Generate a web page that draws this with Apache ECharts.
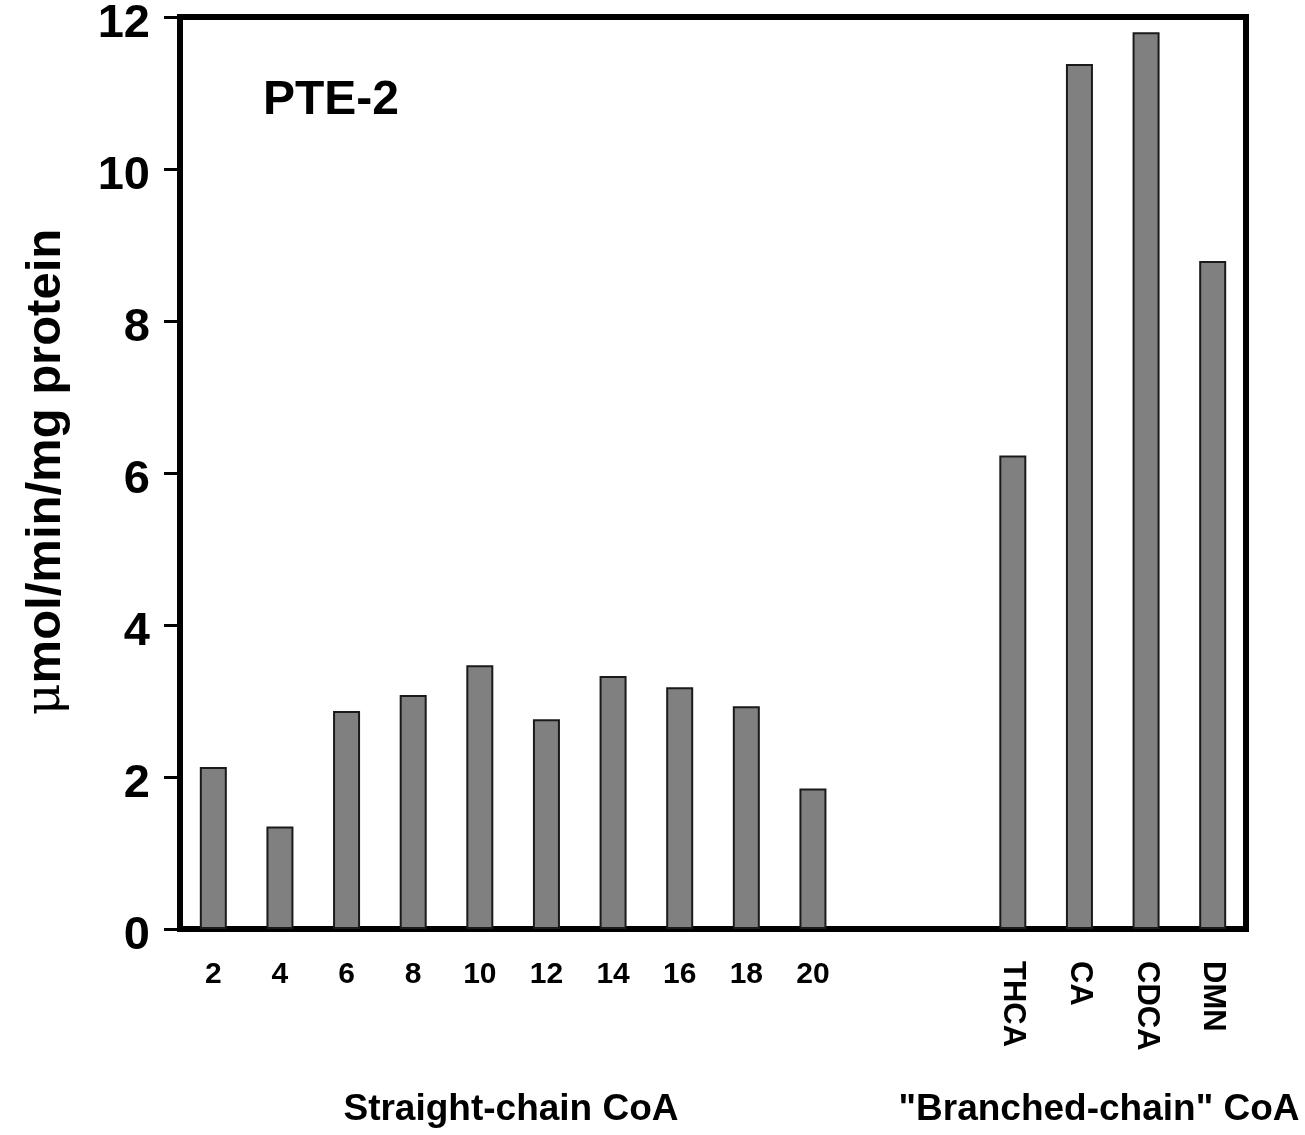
<!DOCTYPE html>
<html>
<head>
<meta charset="utf-8">
<script src="https://cdn.jsdelivr.net/npm/echarts@6/dist/echarts.min.js"></script>
<style>
  html, body { margin: 0; padding: 0; background: #fff; }
  #main { width: 1305px; height: 1135px; }
</style>
</head>
<body>
<div id="main"></div>
<script>
const straightChain = ["2", "4", "6", "8", "10", "12", "14", "16", "18", "20"];
const straightValues = [2.13, 1.35, 2.87, 3.08, 3.47, 2.76, 3.33, 3.18, 2.93, 1.85];
const gapSlots = ["gap1", "gap2"];
const branchedChain = ["THCA", "CA", "CDCA", "DMN"];
const branchedValues = [6.23, 11.38, 11.8, 8.79];
const yTicks = [0, 2, 4, 6, 8, 10, 12];

const FONT = "Liberation Sans, Arial, sans-serif";

function buildOption() {
  const categories = [...straightChain, ...gapSlots, ...branchedChain];
  const values = [...straightValues, ...gapSlots.map(() => null), ...branchedValues];

  return {
    animation: false,
    backgroundColor: "#fff",
    grid: {
      left: 180,
      right: 59,
      top: 17,
      bottom: 206,
      outerBoundsMode: "none",
      show: true,
      borderColor: "#000",
      borderWidth: 6,
    },
    xAxis: [
      {
        type: "category",
        data: categories,
        axisLine: { show: false },
        axisTick: { show: false },
        axisLabel: {
          interval: 0,
          margin: 31,
          fontFamily: FONT,
          fontWeight: "bold",
          fontSize: 30,
          color: "#000",
          formatter: (v) => (straightChain.includes(v) ? v : ""),
        },
      },
      {
        type: "category",
        position: "bottom",
        data: categories,
        axisLine: { show: false },
        axisTick: { show: false },
        axisLabel: {
          interval: 0,
          rotate: -90,
          margin: 32,
          fontFamily: FONT,
          fontWeight: "bold",
          fontSize: 31,
          color: "#000",
          formatter: (v) => (branchedChain.includes(v) ? v : ""),
        },
      },
    ],
    yAxis: {
      type: "value",
      min: yTicks[0],
      max: yTicks[yTicks.length - 1],
      interval: 2,
      splitLine: { show: false },
      axisLine: { show: false },
      axisTick: {
        show: true,
        inside: false,
        length: 16,
        lineStyle: { color: "#000", width: 3 },
      },
      axisLabel: {
        margin: 30,
        color: "#000",
        formatter: (v) => "{n|" + v + "}",
        rich: {
          n: {
            fontFamily: FONT,
            fontWeight: "bold",
            fontSize: 47,
            color: "#000",
            padding: [14, 0, 0, 0],
          },
        },
      },
    },
    series: [
      {
        type: "bar",
        data: values,
        barWidth: 27,
        itemStyle: {
          color: "#808080",
          borderColor: "#1a1a1a",
          borderWidth: 2,
        },
      },
    ],
    graphic: [
      {
        type: "text",
        left: 263,
        top: 77,
        style: {
          text: "PTE-2",
          font: "bold 48px " + FONT,
          fill: "#000",
        },
      },
      {
        type: "text",
        x: 46,
        y: 472,
        rotation: Math.PI / 2,
        style: {
          text: "{mu|\u03bc}mol/min/mg protein",
          font: "bold 49px " + FONT,
          fill: "#000",
          align: "center",
          verticalAlign: "middle",
          rich: {
            mu: { fontFamily: "DejaVu Serif, serif", fontWeight: "normal", fontSize: 49, fill: "#000" },
          },
        },
      },
      {
        type: "text",
        x: 511,
        y: 1110,
        style: {
          text: "Straight-chain CoA",
          font: "bold 37px " + FONT,
          fill: "#000",
          align: "center",
          verticalAlign: "middle",
        },
      },
      {
        type: "text",
        x: 1099,
        y: 1110,
        style: {
          text: "\"Branched-chain\" CoA",
          font: "bold 37px " + FONT,
          fill: "#000",
          align: "center",
          verticalAlign: "middle",
        },
      },
    ],
  };
}

function onLoad() {
  const chart = echarts.init(document.getElementById("main"));
  chart.setOption(buildOption());
}

addEventListener("load", onLoad);
</script>
</body>
</html>
